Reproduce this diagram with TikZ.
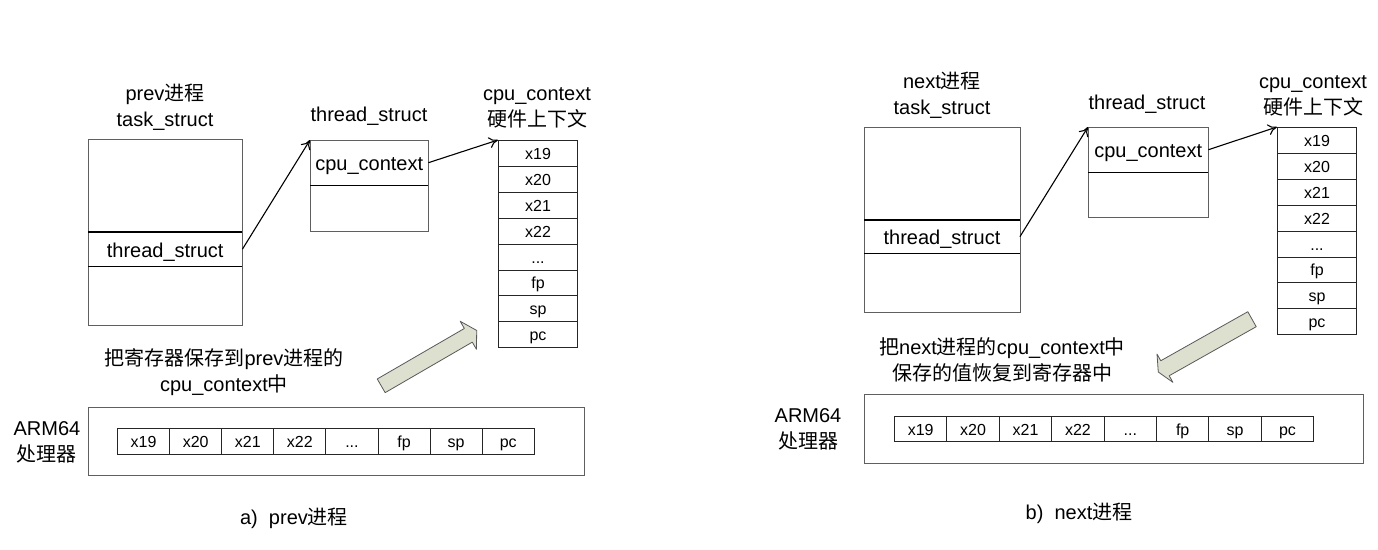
\documentclass[tikz,border=0pt]{standalone}
\usepackage{fontspec}
\setmainfont{Liberation Sans}
\newfontfamily\cjk{Noto Sans CJK SC}
\usetikzlibrary{arrows.meta}
\definecolor{blkfill}{RGB}{221,223,207}
\definecolor{boxline}{RGB}{95,95,95}
\def\rdots{...}
\begin{document}
\begin{tikzpicture}[x=1pt,y=-1pt,
  lbl/.style={font=\fontsize{20}{26}\selectfont, inner sep=0pt, align=center},
  box/.style={draw=boxline, line width=1pt, inner sep=0pt, anchor=north west},
  row/.style={font=\fontsize{20}{24}\selectfont, inner sep=0pt, anchor=north west,
    text height=18pt, text depth=2pt},
  sep/.style={draw=black, line width=1.8pt},
  regcell/.style={draw=black!85, line width=1pt, inner sep=0pt, anchor=north west,
    font=\fontsize{16}{18}\selectfont, text height=13pt, text depth=1pt},
  link/.style={-{To[length=9pt,width=11pt]}, line width=1.1pt},
  blk/.style={draw=black!65, fill=blkfill, line width=0.8pt, line join=round}
]
\useasboundingbox (0,0) rectangle (1378,549);

% ================= a) prev =================
\node[lbl] (tA) at (165,107) {prev{\cjk 进程}\\task\_struct};
\node[box, minimum width=154pt, minimum height=186pt] (taskA) at (88,139) {};
\node[row, minimum width=154pt, minimum height=34pt] (tsA) at (88,232) {thread\_struct};
\draw[sep] (tsA.north west) -- (tsA.north east) (tsA.south west) -- (tsA.south east);

\node[lbl] (thlA) at (369,116) {thread\_struct};
\node[box, minimum width=118pt, minimum height=91pt] (thrA) at (310,140) {};
\node[row, minimum width=118pt, minimum height=45pt] (ccA) at (310,140) {cpu\_context};
\draw[sep] (ccA.south west) -- (ccA.south east);

\node[lbl] (cclA) at (537,108) {cpu\_context\\{\cjk 硬件上下文}};
\foreach \t [count=\i] in {x19,x20,x21,x22,\rdots,fp,sp,pc}
  \node[regcell, minimum width=79pt, minimum height=25.9pt] (rA\i) at (498,{140+(\i-1)*25.9}) {\t};

\draw[link] (tsA.east) -- (thrA.north west);
\draw[link] (ccA.east) -- (rA1.north west);

\node[lbl] (msgA) at (224,372) {{\cjk 把寄存器保存到}prev{\cjk 进程的}\\cpu\_context{\cjk 中}};

\begin{scope}[shift={(381.2,385.8)}, rotate=30.1]
  \draw[blk] (0,-7.9) -- (100.7,-7.9) -- (100.7,-16.2) -- (110.4,0) -- (100.7,16.2) -- (100.7,7.9) -- (0,7.9) -- cycle;
\end{scope}

\node[lbl] (armA) at (47,442) {ARM64\\{\cjk 处理器}};
\node[box, minimum width=496pt, minimum height=68pt] (cpuA) at (88,407) {};
\foreach \t [count=\i] in {x19,x20,x21,x22,\rdots,fp,sp,pc}
  \node[regcell, minimum width=52.1pt, minimum height=26pt] (pA\i) at ({117+(\i-1)*52.1},428) {\t};

\node[lbl] (capA) at (294,518) {a)\ \ prev{\cjk 进程}};

% ================= b) next =================
\node[lbl] (tB) at (942,95) {next{\cjk 进程}\\task\_struct};
\node[box, minimum width=155.5pt, minimum height=185pt] (taskB) at (864,127) {};
\node[row, minimum width=155.5pt, minimum height=33pt] (tsB) at (864,220) {thread\_struct};
\draw[sep] (tsB.north west) -- (tsB.north east) (tsB.south west) -- (tsB.south east);

\node[lbl] (thlB) at (1147,104) {thread\_struct};
\node[box, minimum width=120pt, minimum height=90pt] (thrB) at (1088,127) {};
\node[row, minimum width=120pt, minimum height=45pt] (ccB) at (1088,127) {cpu\_context};
\draw[sep] (ccB.south west) -- (ccB.south east);

\node[lbl] (cclB) at (1313,96) {cpu\_context\\{\cjk 硬件上下文}};
\foreach \t [count=\i] in {x19,x20,x21,x22,\rdots,fp,sp,pc}
  \node[regcell, minimum width=79pt, minimum height=25.9pt] (rB\i) at (1277,{127+(\i-1)*25.9}) {\t};

\draw[link] (tsB.east) -- (thrB.north west);
\draw[link] (ccB.east) -- (rB1.north west);

\node[lbl] (msgB) at (1002,360) {{\cjk 把}next{\cjk 进程的}cpu\_context{\cjk 中}\\{\cjk 保存的值恢复到寄存器中}};

\begin{scope}[shift={(1252,319.2)}, rotate=209.4]
  \draw[blk] (0,-8.6) -- (99.9,-8.6) -- (99.9,-16.2) -- (107.6,0) -- (99.9,16.2) -- (99.9,8.6) -- (0,8.6) -- cycle;
\end{scope}

\node[lbl] (armB) at (808,429) {ARM64\\{\cjk 处理器}};
\node[box, minimum width=499pt, minimum height=69pt] (cpuB) at (864,394) {};
\foreach \t [count=\i] in {x19,x20,x21,x22,\rdots,fp,sp,pc}
  \node[regcell, minimum width=52.4pt, minimum height=25pt] (pB\i) at ({894+(\i-1)*52.4},416) {\t};

\node[lbl] (capB) at (1079,513) {b)\ \ next{\cjk 进程}};
\end{tikzpicture}
\end{document}
